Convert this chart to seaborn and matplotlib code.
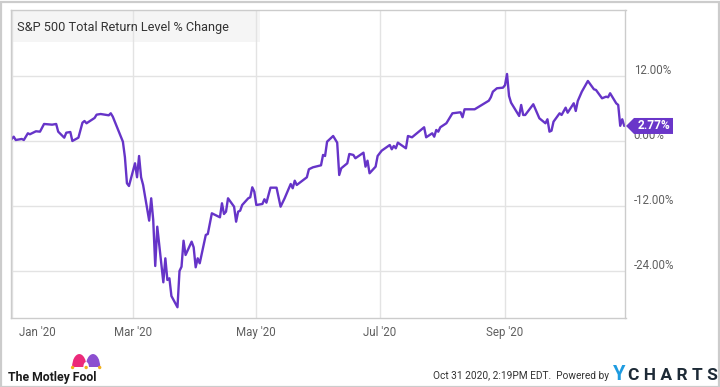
import matplotlib
matplotlib.use("Agg")
import matplotlib.pyplot as plt
import matplotlib.dates as mdates
from matplotlib.patches import Rectangle, Polygon, Wedge, Circle
from matplotlib.transforms import ScaledTranslation, IdentityTransform, Affine2D
import seaborn as sns
import pandas as pd
import numpy as np

# ---------------- data ----------------
dates = [
    "2019-12-31", "2020-01-02", "2020-01-03", "2020-01-06", "2020-01-07", "2020-01-09",
    "2020-01-10", "2020-01-13", "2020-01-15", "2020-01-17", "2020-01-21", "2020-01-23",
    "2020-01-24", "2020-01-27", "2020-01-28", "2020-01-30", "2020-01-31", "2020-02-03",
    "2020-02-05", "2020-02-06", "2020-02-07", "2020-02-11", "2020-02-12", "2020-02-14",
    "2020-02-18", "2020-02-19", "2020-02-20", "2020-02-24", "2020-02-25", "2020-02-26",
    "2020-02-27", "2020-02-28", "2020-03-02", "2020-03-03", "2020-03-04", "2020-03-05",
    "2020-03-06", "2020-03-09", "2020-03-10", "2020-03-11", "2020-03-12", "2020-03-13",
    "2020-03-16", "2020-03-17", "2020-03-18", "2020-03-19", "2020-03-20", "2020-03-23",
    "2020-03-24", "2020-03-25", "2020-03-26", "2020-03-27", "2020-03-30", "2020-03-31",
    "2020-04-01", "2020-04-02", "2020-04-03", "2020-04-06", "2020-04-07", "2020-04-09",
    "2020-04-13", "2020-04-14", "2020-04-15", "2020-04-16", "2020-04-17", "2020-04-20",
    "2020-04-21", "2020-04-22", "2020-04-23", "2020-04-24", "2020-04-27", "2020-04-28",
    "2020-04-29", "2020-04-30", "2020-05-01", "2020-05-04", "2020-05-05", "2020-05-06",
    "2020-05-08", "2020-05-11", "2020-05-13", "2020-05-15", "2020-05-18", "2020-05-19",
    "2020-05-20", "2020-05-21", "2020-05-26", "2020-05-27", "2020-05-29", "2020-06-02",
    "2020-06-03", "2020-06-04", "2020-06-05", "2020-06-08", "2020-06-10", "2020-06-11",
    "2020-06-12", "2020-06-15", "2020-06-16", "2020-06-18", "2020-06-19", "2020-06-23",
    "2020-06-24", "2020-06-25", "2020-06-26", "2020-06-29", "2020-06-30", "2020-07-02",
    "2020-07-06", "2020-07-07", "2020-07-08", "2020-07-09", "2020-07-10", "2020-07-14",
    "2020-07-15", "2020-07-17", "2020-07-23", "2020-07-24", "2020-07-27", "2020-07-28",
    "2020-07-29", "2020-07-30", "2020-07-31", "2020-08-03", "2020-08-06", "2020-08-10",
    "2020-08-11", "2020-08-12", "2020-08-17", "2020-08-24", "2020-08-25", "2020-08-26",
    "2020-08-27", "2020-08-28", "2020-08-31", "2020-09-01", "2020-09-02", "2020-09-03",
    "2020-09-04", "2020-09-08", "2020-09-09", "2020-09-10", "2020-09-11", "2020-09-15",
    "2020-09-18", "2020-09-21", "2020-09-22", "2020-09-23", "2020-09-24", "2020-09-25",
    "2020-09-28", "2020-09-29", "2020-10-01", "2020-10-02", "2020-10-05", "2020-10-06",
    "2020-10-07", "2020-10-09", "2020-10-12", "2020-10-15", "2020-10-16", "2020-10-19",
    "2020-10-21", "2020-10-22", "2020-10-23", "2020-10-26", "2020-10-27", "2020-10-28",
    "2020-10-29", "2020-10-30",
]
pct_change = [
    0.00, 0.79, 0.18, 0.37, 0.18, 1.42,
    1.24, 1.79, 1.72, 3.14, 3.01, 3.14,
    1.72, 0.61, 1.53, 1.66, 0.00, 0.61,
    3.38, 3.69, 3.27, 4.25, 4.86, 4.98,
    4.74, 5.11, 4.49, 0.79, -0.13, -3.00,
    -7.81, -8.31, -4.12, -6.70, -2.77, -6.70,
    -8.12, -14.71, -10.58, -14.58, -23.08, -15.82,
    -26.09, -21.66, -25.66, -25.35, -28.62, -30.70,
    -24.00, -23.21, -18.41, -21.05, -18.59, -19.62,
    -23.32, -21.66, -22.58, -17.35, -17.17, -13.35,
    -14.09, -11.50, -13.48, -13.05, -10.58, -12.13,
    -14.90, -13.05, -12.87, -11.82, -10.58, -10.39,
    -8.55, -9.36, -11.82, -11.63, -10.76, -11.39,
    -8.62, -8.62, -12.13, -10.58, -7.94, -8.73,
    -7.33, -8.12, -6.70, -5.22, -4.86, -4.49,
    -2.58, -2.77, -0.13, 0.92, -0.31, -6.28,
    -5.04, -4.12, -2.40, -2.58, -3.19, -2.16,
    -4.74, -3.64, -5.96, -4.74, -2.77, -1.79,
    -0.74, -1.53, -0.92, -1.35, -0.31, -1.35,
    0.92, 0.68, 2.53, 0.68, 1.42, 0.79,
    2.03, 1.72, 2.53, 3.27, 5.11, 5.30,
    4.38, 5.85, 5.85, 7.44, 8.07, 9.10,
    9.42, 9.73, 9.84, 10.30, 12.37, 8.31,
    7.07, 4.62, 6.65, 4.80, 4.80, 6.78,
    4.19, 3.27, 4.01, 1.72, 1.90, 3.56,
    5.11, 4.80, 6.15, 5.22, 6.96, 5.54,
    7.38, 9.10, 11.08, 9.54, 9.42, 7.88,
    8.18, 8.07, 8.81, 6.96, 6.65, 2.80,
    4.01, 2.77,
]
y_ticks = [12, 0, -12, -24]
y_tick_labels = ["12.00%", "0.00%", "-12.00%", "-24.00%"]
x_ticks = ["2020-01-01", "2020-03-01", "2020-05-01", "2020-07-01", "2020-09-01"]
x_tick_labels = ["Jan '20", "Mar '20", "May '20", "Jul '20", "Sep '20"]
title = "S&P 500 Total Return Level % Change"
last_label = "2.77%"

df = pd.DataFrame({"date": pd.to_datetime(dates), "value": pct_change})

# ---------------- style ----------------
sns.set_theme(style="white")
plt.rcParams["font.family"] = ["Roboto", "DejaVu Sans"]

LINE = "#6634c8"
GRID = "#e3e3e3"
BORDER = "#cccccc"
TXT = "#5f5f5f"

W, H = 720, 387
fig = plt.figure(figsize=(W / 100, H / 100), dpi=100)
fig.patch.set_facecolor("white")

left, right, top, bottom = 10.5, 625.5, 10, 318
ax = fig.add_axes([left / W, (H - bottom) / H, (right - left) / W, (bottom - top) / H])
ax.set_facecolor("none")

sns.lineplot(data=df, x="date", y="value", color=LINE, linewidth=1.7, ax=ax)

# limits
jan1 = mdates.date2num(pd.Timestamp("2020-01-01"))
ppd = 2.0217
ax.set_xlim(jan1 + (left - 11.7) / ppd, jan1 + (right - 11.7) / ppd)
ax.set_ylim(-32.68, 24.18)

# grid / ticks
ax.set_yticks(y_ticks)
ax.set_yticklabels(y_tick_labels)
ax.set_xticks(pd.to_datetime(x_ticks))
ax.set_xticklabels(x_tick_labels)
ax.yaxis.tick_right()
ax.grid(True, color=GRID, linewidth=1)
ax.set_axisbelow(True)
ax.tick_params(axis="both", length=0, labelsize=8.3, labelcolor=TXT)
ax.tick_params(axis="y", pad=6)
ax.tick_params(axis="x", pad=6)
for lab in ax.get_yticklabels():
    lab.set_transform(lab.get_transform() + ScaledTranslation(0, 0.065, fig.dpi_scale_trans))
    lab.set_horizontalalignment("left")
xl = ax.get_xticklabels()
xl[0].set_transform(xl[0].get_transform() + ScaledTranslation(0.255, 0, fig.dpi_scale_trans))
ax.set_xlabel("")
ax.set_ylabel("")
for s in ax.spines.values():
    s.set_visible(True)
    s.set_color(BORDER)
    s.set_linewidth(1)

# title box
fig.patches.append(Rectangle((11 / W, 1 - 42 / H), (260 - 11) / W, 32 / H,
                             transform=fig.transFigure, facecolor="#f5f5f5",
                             edgecolor="none", zorder=-5))
fig.text(17 / W, 1 - 27 / H, title, fontsize=9.2, color="#333333",
         ha="left", va="center")

# last-value tag
fig.canvas.draw()
x0, y0 = ax.transData.transform((ax.get_xlim()[1], pct_change[-1]))
x0 = x0 + 0.5
tag = Polygon([(x0, y0), (x0 + 8, y0 + 8), (x0 + 47, y0 + 8),
               (x0 + 47, y0 - 8), (x0 + 8, y0 - 8)],
              closed=True, transform=IdentityTransform(), facecolor="#6a36c9",
              edgecolor="none", zorder=10, clip_on=False)
fig.patches.append(tag)
fig.text(x0 + 28, y0 + 0.5, last_label, transform=IdentityTransform(), color="white",
         fontsize=8.6, fontweight="bold", ha="center", va="center", zorder=11)

# outer border
fig.patches.append(Rectangle((0.5 / W, 0.5 / H), (W - 2) / W, (H - 2) / H,
                             transform=fig.transFigure, fill=False,
                             edgecolor=BORDER, linewidth=1.6, zorder=20))

# footer: Motley Fool logo (pixel coordinates, y from bottom)
def py(y_top):
    return H - y_top

fig.text(8 / W, 1 - 377 / H, "The Motley Fool", fontsize=8.8, fontweight="bold",
         color="#1b1b1b", ha="left", va="center")
for cx, col in ((79.3, "#ec2a7a"), (93.0, "#8c4fd0")):
    fig.patches.append(Wedge((0, 0), 7.2, 0, 180,
                             transform=Affine2D().scale(1, 1.8).translate(cx, py(367)),
                             facecolor=col, edgecolor="none"))
fig.patches.append(Wedge((0, 0), 2.8, 0, 180,
                         transform=Affine2D().scale(1, 1.8).translate(86.15, py(367)),
                         facecolor="white", edgecolor="none"))
for cx in (72.6, 86.15, 99.7):
    fig.patches.append(Circle((cx, py(367.5)), 1.7, transform=IdentityTransform(),
                              facecolor="#f2b21b", edgecolor="none"))

# footer: timestamp + YCharts
fig.text(609 / W, 1 - 376 / H, "Oct 31 2020, 2:19PM EDT.  Powered by", fontsize=7.3,
         color="#333333", ha="right", va="center")
fig.text(613 / W, 1 - 375 / H, "Y", fontsize=14.5, fontweight="bold",
         color="#1e9be0", ha="left", va="center")
fig.text(628 / W, 1 - 375 / H, "C H A R T S", fontsize=12.5, fontweight="bold",
         color="#1d2a36", ha="left", va="center")

fig.savefig("out.png", dpi=100, facecolor="white")
